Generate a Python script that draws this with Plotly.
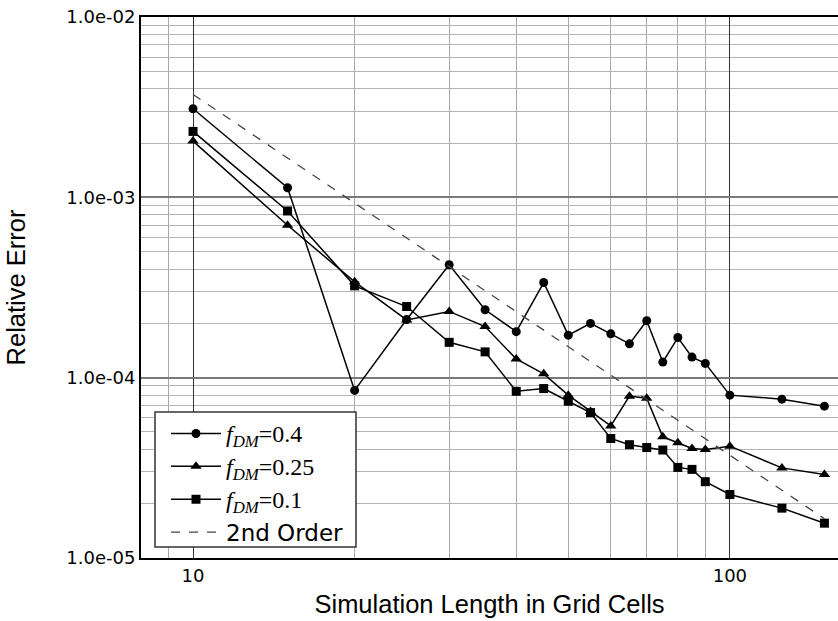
import math
import plotly.graph_objects as go

# ---- data ----
grid_cells = [10, 15, 20, 25, 30, 35, 40, 45, 50, 55, 60, 65, 70, 75, 80, 85, 90, 100, 125, 150]

err_fdm_04 = [3.1e-3, 1.13e-3, 8.5e-5, 2.1e-4, 4.23e-4, 2.38e-4, 1.80e-4, 3.37e-4, 1.72e-4, 2.00e-4,
              1.75e-4, 1.54e-4, 2.07e-4, 1.22e-4, 1.67e-4, 1.30e-4, 1.20e-4, 8.0e-5, 7.6e-5, 6.95e-5]
err_fdm_025 = [2.05e-3, 7.0e-4, 3.4e-4, 2.09e-4, 2.33e-4, 1.92e-4, 1.27e-4, 1.05e-4, 8.0e-5, 6.5e-5,
               5.4e-5, 7.9e-5, 7.7e-5, 4.7e-5, 4.35e-5, 4.05e-5, 4.0e-5, 4.17e-5, 3.16e-5, 2.9e-5]
err_fdm_01 = [2.32e-3, 8.4e-4, 3.23e-4, 2.48e-4, 1.57e-4, 1.39e-4, 8.4e-5, 8.7e-5, 7.4e-5, 6.4e-5,
              4.6e-5, 4.25e-5, 4.1e-5, 3.97e-5, 3.18e-5, 3.1e-5, 2.65e-5, 2.25e-5, 1.89e-5, 1.56e-5]

second_order_x = [10, 150]
second_order_y = [3.72e-3, 1.65e-5]

series_names = [
    '<span style="font-family:Liberation Serif;font-size:24px"><i>f</i><sub><i>DM</i></sub>=0.4</span>',
    '<span style="font-family:Liberation Serif;font-size:24px"><i>f</i><sub><i>DM</i></sub>=0.25</span>',
    '<span style="font-family:Liberation Serif;font-size:24px"><i>f</i><sub><i>DM</i></sub>=0.1</span>',
    '2nd Order',
]

y_tick_vals = [1e-5, 1e-4, 1e-3, 1e-2]
y_tick_text = ["1.0e-05", "1.0e-04", "1.0e-03", "1.0e-02"]
x_tick_vals = [10, 100]
x_tick_text = ["10", "100"]

x_minor = [9, 20, 30, 40, 50, 60, 70, 80, 90]
y_minor = [m * 10.0 ** e for e in (-5, -4, -3) for m in range(2, 10)]

# plot-area geometry in pixels (for the legend frame)
W, H = 838, 621
ML, MR, MT, MB = 141, 0, 17, 63
PW, PH = W - ML - MR, H - MT - MB


def px_to_paper_x(px):
    return (px - ML) / PW


def px_to_paper_y(py):
    return (H - MB - py) / PH


fig = go.Figure()
symbols = ["circle", "triangle-up", "square"]
sizes = [9, 10, 9]
for ys, name, sym, sz in zip([err_fdm_04, err_fdm_025, err_fdm_01], series_names[:3], symbols, sizes):
    fig.add_trace(go.Scatter(
        x=grid_cells, y=ys, name=name, mode="lines+markers",
        line=dict(color="black", width=1.5),
        marker=dict(symbol=sym, size=sz, color="black"),
    ))
fig.add_trace(go.Scatter(
    x=second_order_x, y=second_order_y, name=series_names[3], mode="lines",
    line=dict(color="#444444", width=1.3, dash="dash"),
))

# legend frame (opaque box over the grid)
fig.add_shape(
    type="rect", xref="paper", yref="paper", layer="above",
    x0=px_to_paper_x(155), x1=px_to_paper_x(356),
    y0=px_to_paper_y(547), y1=px_to_paper_y(412),
    fillcolor="white", line=dict(color="#333333", width=1.5),
)

fig.update_layout(
    width=W, height=H,
    margin=dict(l=ML, r=MR, t=MT, b=MB),
    paper_bgcolor="white", plot_bgcolor="white",
    showlegend=True,
    legend=dict(
        x=px_to_paper_x(166), y=px_to_paper_y(412), xanchor="left", yanchor="top",
        bgcolor="rgba(0,0,0,0)", borderwidth=0,
        font=dict(family="DejaVu Sans", size=23, color="black"),
        tracegroupgap=0, itemwidth=50,
    ),
    font=dict(family="DejaVu Sans", color="black"),
)

fig.update_xaxes(
    type="log", range=[math.log10(8), math.log10(159)],
    tickmode="array", tickvals=x_tick_vals, ticktext=x_tick_text,
    tickfont=dict(family="DejaVu Sans", size=18, color="black"),
    showgrid=True, gridcolor="#333333", gridwidth=1.3,
    minor=dict(tickmode="array", tickvals=x_minor, showgrid=True, gridcolor="#a8a8a8", gridwidth=1.2, ticks=""),
    ticks="",
    showline=True, linecolor="black", linewidth=2, mirror=True,
    zeroline=False,
    title=dict(text="Simulation Length in Grid Cells",
               font=dict(family="Liberation Sans", size=25.5, color="black"), standoff=11),
)
fig.update_yaxes(
    type="log", range=[-5, -2],
    tickmode="array", tickvals=y_tick_vals, ticktext=y_tick_text,
    tickfont=dict(family="DejaVu Sans", size=18, color="black"),
    showgrid=True, gridcolor="#7a7a7a", gridwidth=1.5,
    minor=dict(tickmode="array", tickvals=y_minor, showgrid=True, gridcolor="#b4b4b4", gridwidth=1.2, ticks=""),
    ticks="",
    showline=True, linecolor="black", linewidth=2, mirror=False,
    zeroline=False,
    title=dict(text="Relative Error",
               font=dict(family="Liberation Sans", size=25.5, color="black"), standoff=33),
)

fig.write_html("out.html")
